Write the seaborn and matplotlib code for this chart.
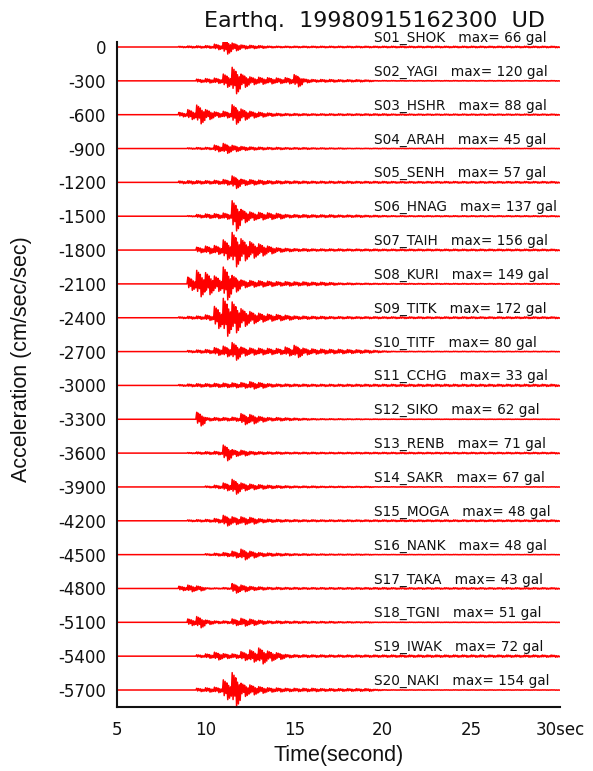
import numpy as np
import pandas as pd
import matplotlib
matplotlib.use("Agg")
import matplotlib.pyplot as plt
import seaborn as sns

# ---------------- data ----------------
stations = ["S01_SHOK", "S02_YAGI", "S03_HSHR", "S04_ARAH", "S05_SENH",
            "S06_HNAG", "S07_TAIH", "S08_KURI", "S09_TITK", "S10_TITF",
            "S11_CCHG", "S12_SIKO", "S13_RENB", "S14_SAKR", "S15_MOGA",
            "S16_NANK", "S17_TAKA", "S18_TGNI", "S19_IWAK", "S20_NAKI"]
max_gal = [66, 120, 88, 45, 57, 137, 156, 149, 172, 80,
           33, 62, 71, 67, 48, 48, 43, 51, 72, 154]
offsets = [0, -300, -600, -900, -1200, -1500, -1800, -2100, -2400, -2700,
           -3000, -3300, -3600, -3900, -4200, -4500, -4800, -5100, -5400, -5700]

# envelope amplitude (gal) in 0.5 s bins starting at 8.0 s ... 20.0 s
env_S01 = [0, 6, 9, 10, 12, 25, 66, 35, 18, 15, 12, 8, 7, 7, 7, 7, 7, 7, 7, 7, 7, 7, 7, 7, 7]
env_S02 = [0, 0, 0, 15, 20, 24, 60, 120, 60, 35, 32, 28, 25, 28, 55, 18, 12, 12, 12, 10, 10, 10, 8, 3, 3]
env_S03 = [0, 20, 45, 85, 45, 25, 30, 88, 50, 30, 22, 15, 12, 10, 10, 9, 8, 8, 8, 8, 8, 8, 8, 8, 8]
env_S04 = [0, 0, 6, 9, 10, 30, 45, 28, 18, 14, 12, 10, 10, 8, 8, 8, 6, 6, 5, 5, 3, 3, 3, 3, 3]
env_S05 = [0, 12, 15, 15, 15, 18, 25, 57, 28, 24, 20, 15, 14, 12, 12, 11, 10, 10, 10, 10, 10, 9, 9, 9, 9]
env_S06 = [0, 0, 5, 15, 20, 22, 28, 137, 60, 38, 34, 30, 25, 15, 14, 14, 12, 12, 12, 10, 10, 10, 8, 8, 6]
env_S07 = [0, 0, 0, 25, 35, 40, 90, 156, 100, 75, 55, 35, 20, 15, 12, 12, 10, 10, 10, 10, 9, 9, 9, 9, 8]
env_S08 = [0, 0, 60, 120, 100, 70, 149, 75, 35, 30, 28, 24, 20, 20, 18, 18, 15, 15, 12, 8, 8, 6, 6, 5, 5]
env_S09 = [0, 8, 12, 15, 25, 100, 172, 140, 80, 55, 40, 32, 28, 22, 15, 14, 12, 12, 10, 10, 10, 9, 9, 9, 8]
env_S10 = [0, 0, 10, 14, 18, 35, 48, 80, 40, 32, 30, 28, 27, 40, 55, 30, 24, 22, 20, 20, 18, 16, 14, 10, 6]
env_S11 = [0, 8, 12, 15, 15, 18, 20, 22, 25, 33, 25, 15, 12, 12, 11, 11, 10, 10, 10, 10, 10, 10, 10, 10, 10]
env_S12 = [0, 0, 0, 62, 15, 15, 15, 18, 50, 42, 25, 15, 15, 12, 10, 8, 6, 5, 5, 5, 4, 4, 3, 3, 2]
env_S13 = [0, 0, 5, 10, 12, 15, 71, 30, 25, 15, 12, 10, 10, 8, 8, 8, 8, 7, 7, 7, 7, 7, 7, 7, 7]
env_S14 = [0, 0, 0, 0, 8, 15, 35, 67, 35, 25, 20, 15, 12, 10, 8, 8, 8, 6, 6, 6, 5, 5, 5, 2, 2]
env_S15 = [0, 0, 8, 10, 12, 20, 48, 35, 35, 30, 18, 14, 12, 10, 10, 9, 9, 8, 8, 8, 8, 8, 8, 8, 8]
env_S16 = [0, 0, 0, 0, 8, 12, 18, 30, 48, 30, 18, 14, 12, 10, 8, 8, 6, 6, 5, 5, 5, 5, 4, 2, 2]
env_S17 = [0, 20, 30, 22, 6, 5, 8, 43, 30, 18, 14, 10, 10, 9, 9, 8, 8, 8, 8, 8, 8, 8, 8, 8, 8]
env_S18 = [0, 0, 30, 51, 20, 12, 12, 30, 35, 28, 18, 12, 12, 10, 10, 9, 8, 8, 8, 6, 6, 5, 5, 2, 2]
env_S19 = [0, 0, 0, 12, 20, 35, 22, 20, 40, 55, 72, 45, 30, 15, 12, 12, 11, 11, 10, 10, 10, 10, 10, 10, 10]
env_S20 = [0, 0, 0, 15, 20, 25, 90, 154, 60, 45, 30, 20, 18, 15, 15, 15, 15, 12, 12, 12, 12, 12, 12, 6, 3]
# small coda level after 20 s
tail_gal = [7, 3, 6, 2, 8, 5, 8, 4, 8, 3, 10, 2, 7, 2, 8, 2, 7, 2, 10, 2]

envelopes = [env_S01, env_S02, env_S03, env_S04, env_S05, env_S06, env_S07,
             env_S08, env_S09, env_S10, env_S11, env_S12, env_S13, env_S14,
             env_S15, env_S16, env_S17, env_S18, env_S19, env_S20]

x_ticks = [5, 10, 15, 20, 25, 30]
x_tick_labels = ["5", "10", "15", "20", "25", "30sec"]

# ---------------- build long-form table ----------------
BIN0, BINW, SUB = 8.0, 0.5, 10
glyph = [1.0, 0.55, 0.85, 0.35, 0.7, 0.95, 0.45, 0.8, 0.3, 0.6]  # drawing pattern of each bin
rows = []
for name, off, env, tl in zip(stations, offsets, envelopes, tail_gal):
    amps = list(env) + [tl] * 19
    rows.append((name, 5.0, off))
    rows.append((name, BIN0, off))
    for b, a in enumerate(amps):
        t0 = BIN0 + b * BINW
        for k in range(SUB):
            s = 1 if k % 2 == 0 else -1
            rows.append((name, t0 + k * BINW / SUB, off + s * a * glyph[k]))
    rows.append((name, 30.0, off))
df = pd.DataFrame(rows, columns=["station", "t", "acc"])

# ---------------- plot ----------------
sns.set_theme(style="white")
plt.rcParams["font.family"] = ["DejaVu Sans"]

fig = plt.figure(figsize=(5.93, 7.71), dpi=100)
ax = fig.add_axes([117 / 593, 1 - 706.7 / 771, (560 - 117) / 593, (706.7 - 41.7) / 771])

sns.lineplot(data=df, x="t", y="acc", units="station", estimator=None, sort=False,
             color="#ff0000", linewidth=1.1, ax=ax, legend=False)

for name, off, mg in zip(stations, offsets, max_gal):
    ax.text(19.5, off + 45, f"{name}   max= {mg} gal", fontsize=9.8,
            ha="left", va="baseline", color="#111111")

ax.set_xlim(5, 30)
ax.set_ylim(-5848, 47)
ax.set_xticks(x_ticks)
ax.set_xticklabels(x_tick_labels)
ax.set_yticks(offsets)
ax.set_yticklabels([str(o) for o in offsets])
ax.tick_params(axis="x", direction="in", length=8, width=1.2, color="black",
               labelsize=12, pad=10, labelcolor="#111111")
ax.tick_params(axis="y", direction="in", length=3, width=1.5, color="#ff0000",
               labelsize=12, pad=8, labelcolor="#111111")
ax.set_xlabel("")
ax.set_ylabel("")
for sp in ["top", "right"]:
    ax.spines[sp].set_visible(False)
for sp in ["left", "bottom"]:
    ax.spines[sp].set_color("#111111")
    ax.spines[sp].set_linewidth(1.5)
ax.set_facecolor("white")

fig.text(374.5 / 593, 1 - 27.3 / 771, "Earthq.  19980915162300  UD", fontsize=16,
         ha="center", va="baseline", color="#111111")
fig.text(338.5 / 593, 1 - 756 / 771, "Time(second)", fontsize=15.5,
         family="Liberation Sans", ha="center", va="center", color="#111111")
fig.text(21.5 / 593, 1 - 359 / 771, "Acceleration (cm/sec/sec)", fontsize=15.5,
         family="Liberation Sans", rotation=90, ha="center", va="center", color="#111111")

fig.savefig("out.png", dpi=100, facecolor="white")
